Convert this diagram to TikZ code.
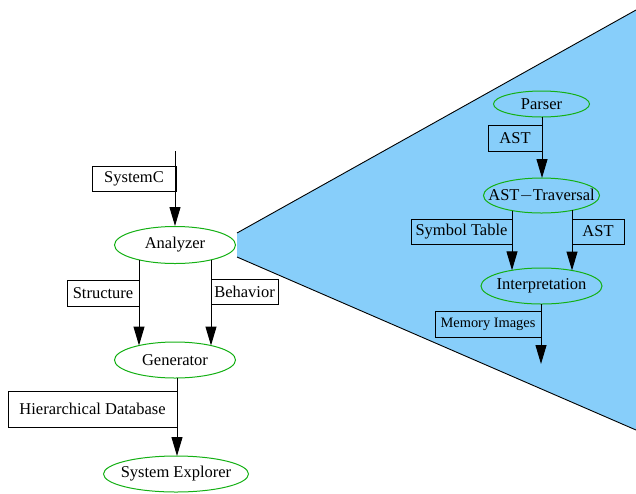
\documentclass[tikz,border=0pt]{standalone}
\usepackage{fontspec}
\setmainfont{Liberation Serif}
\usetikzlibrary{arrows.meta,shapes.geometric,calc}
\definecolor{skyfill}{RGB}{135,206,250}
\definecolor{ellgreen}{RGB}{20,176,20}
\begin{document}
\begin{tikzpicture}[x=1pt,y=-1pt,
  every node/.style={font=\fontsize{16.5}{18}\selectfont},
  every label/.style={font=\fontsize{16.5}{18}\selectfont,inner sep=0pt},
  proc/.style={ellipse,draw=ellgreen,line width=1pt,inner sep=0pt},
  lbl/.style={draw=black,line width=0.9pt,rectangle,inner sep=0pt},
  arr/.style={line width=1pt,-{Triangle[length=19pt,width=11pt]}},
  bline/.style={line width=0.9pt}]
\useasboundingbox (0,0) rectangle (636,493);
% blue wedge
\fill[skyfill] (237,233) -- (636,10) -- (636,430) -- (237,257) -- cycle;
\draw[bline] (237,233) -- (636,10);
\draw[bline] (237,257) -- (636,430);
% left chain
\coordinate (in) at (175,151);
\node[proc,minimum width=121pt,minimum height=37pt,label={center:Analyzer}] (analyzer) at (175,245) {};
\node[proc,minimum width=121pt,minimum height=36pt,label={center:Generator}] (generator) at (175,360) {};
\node[proc,minimum width=145pt,minimum height=36pt,label={center:System Explorer}] (explorer) at (176,474) {};
\draw[arr] (in) -- (analyzer.north);
\draw[arr] ($(analyzer.center)+(-36,14.9)$) -- ($(generator.center)+(-36,-14.5)$);
\draw[arr] ($(analyzer.center)+(36,14.9)$) -- ($(generator.center)+(36,-14.5)$);
\draw[arr] ($(generator.center)+(2,18)$) -- ($(explorer.center)+(1,-18)$);
\node[lbl,minimum width=84pt,minimum height=25pt] (lsysc) at (134,178.5) {SystemC};
\node[lbl,minimum width=72pt,minimum height=26pt] (lstruct) at (103,293) {Structure};
\node[lbl,minimum width=67pt,minimum height=25pt] (lbeh) at (244.5,291.5) {Behavior};
\node[lbl,minimum width=169pt,minimum height=36pt] (lhier) at (92.5,409) {Hierarchical Database};
% right chain
\node[proc,minimum width=96pt,minimum height=26pt,label={center:Parser}] (parser) at (541.5,104) {};
\node[proc,minimum width=116pt,minimum height=35pt,label={center:AST$-$Traversal}] (trav) at (541.5,195.5) {};
\node[proc,minimum width=121pt,minimum height=36pt,label={center:Interpretation}] (interp) at (541.5,286) {};
\coordinate (out) at (541,364);
\draw[arr] ($(parser.center)+(0.5,13)$) -- ($(trav.center)+(0.5,-17.5)$);
\draw[arr] ($(trav.center)+(-29.5,15.1)$) -- ($(interp.center)+(-29.5,-15.7)$);
\draw[arr] ($(trav.center)+(30.5,14.9)$) -- ($(interp.center)+(30.5,-15.5)$);
\draw[arr] ($(interp.center)+(-0.5,18)$) -- (out);
\node[lbl,minimum width=54pt,minimum height=26pt] (last1) at (515,138) {AST};
\node[lbl,minimum width=101pt,minimum height=25pt] (lsym) at (461.5,231.5) {Symbol Table};
\node[lbl,minimum width=52pt,minimum height=25pt] (last2) at (598,231.5) {AST};
\node[lbl,minimum width=106pt,minimum height=26pt,font=\fontsize{14.4}{16}\selectfont] (lmem) at (488,324) {Memory Images};
\end{tikzpicture}
\end{document}
